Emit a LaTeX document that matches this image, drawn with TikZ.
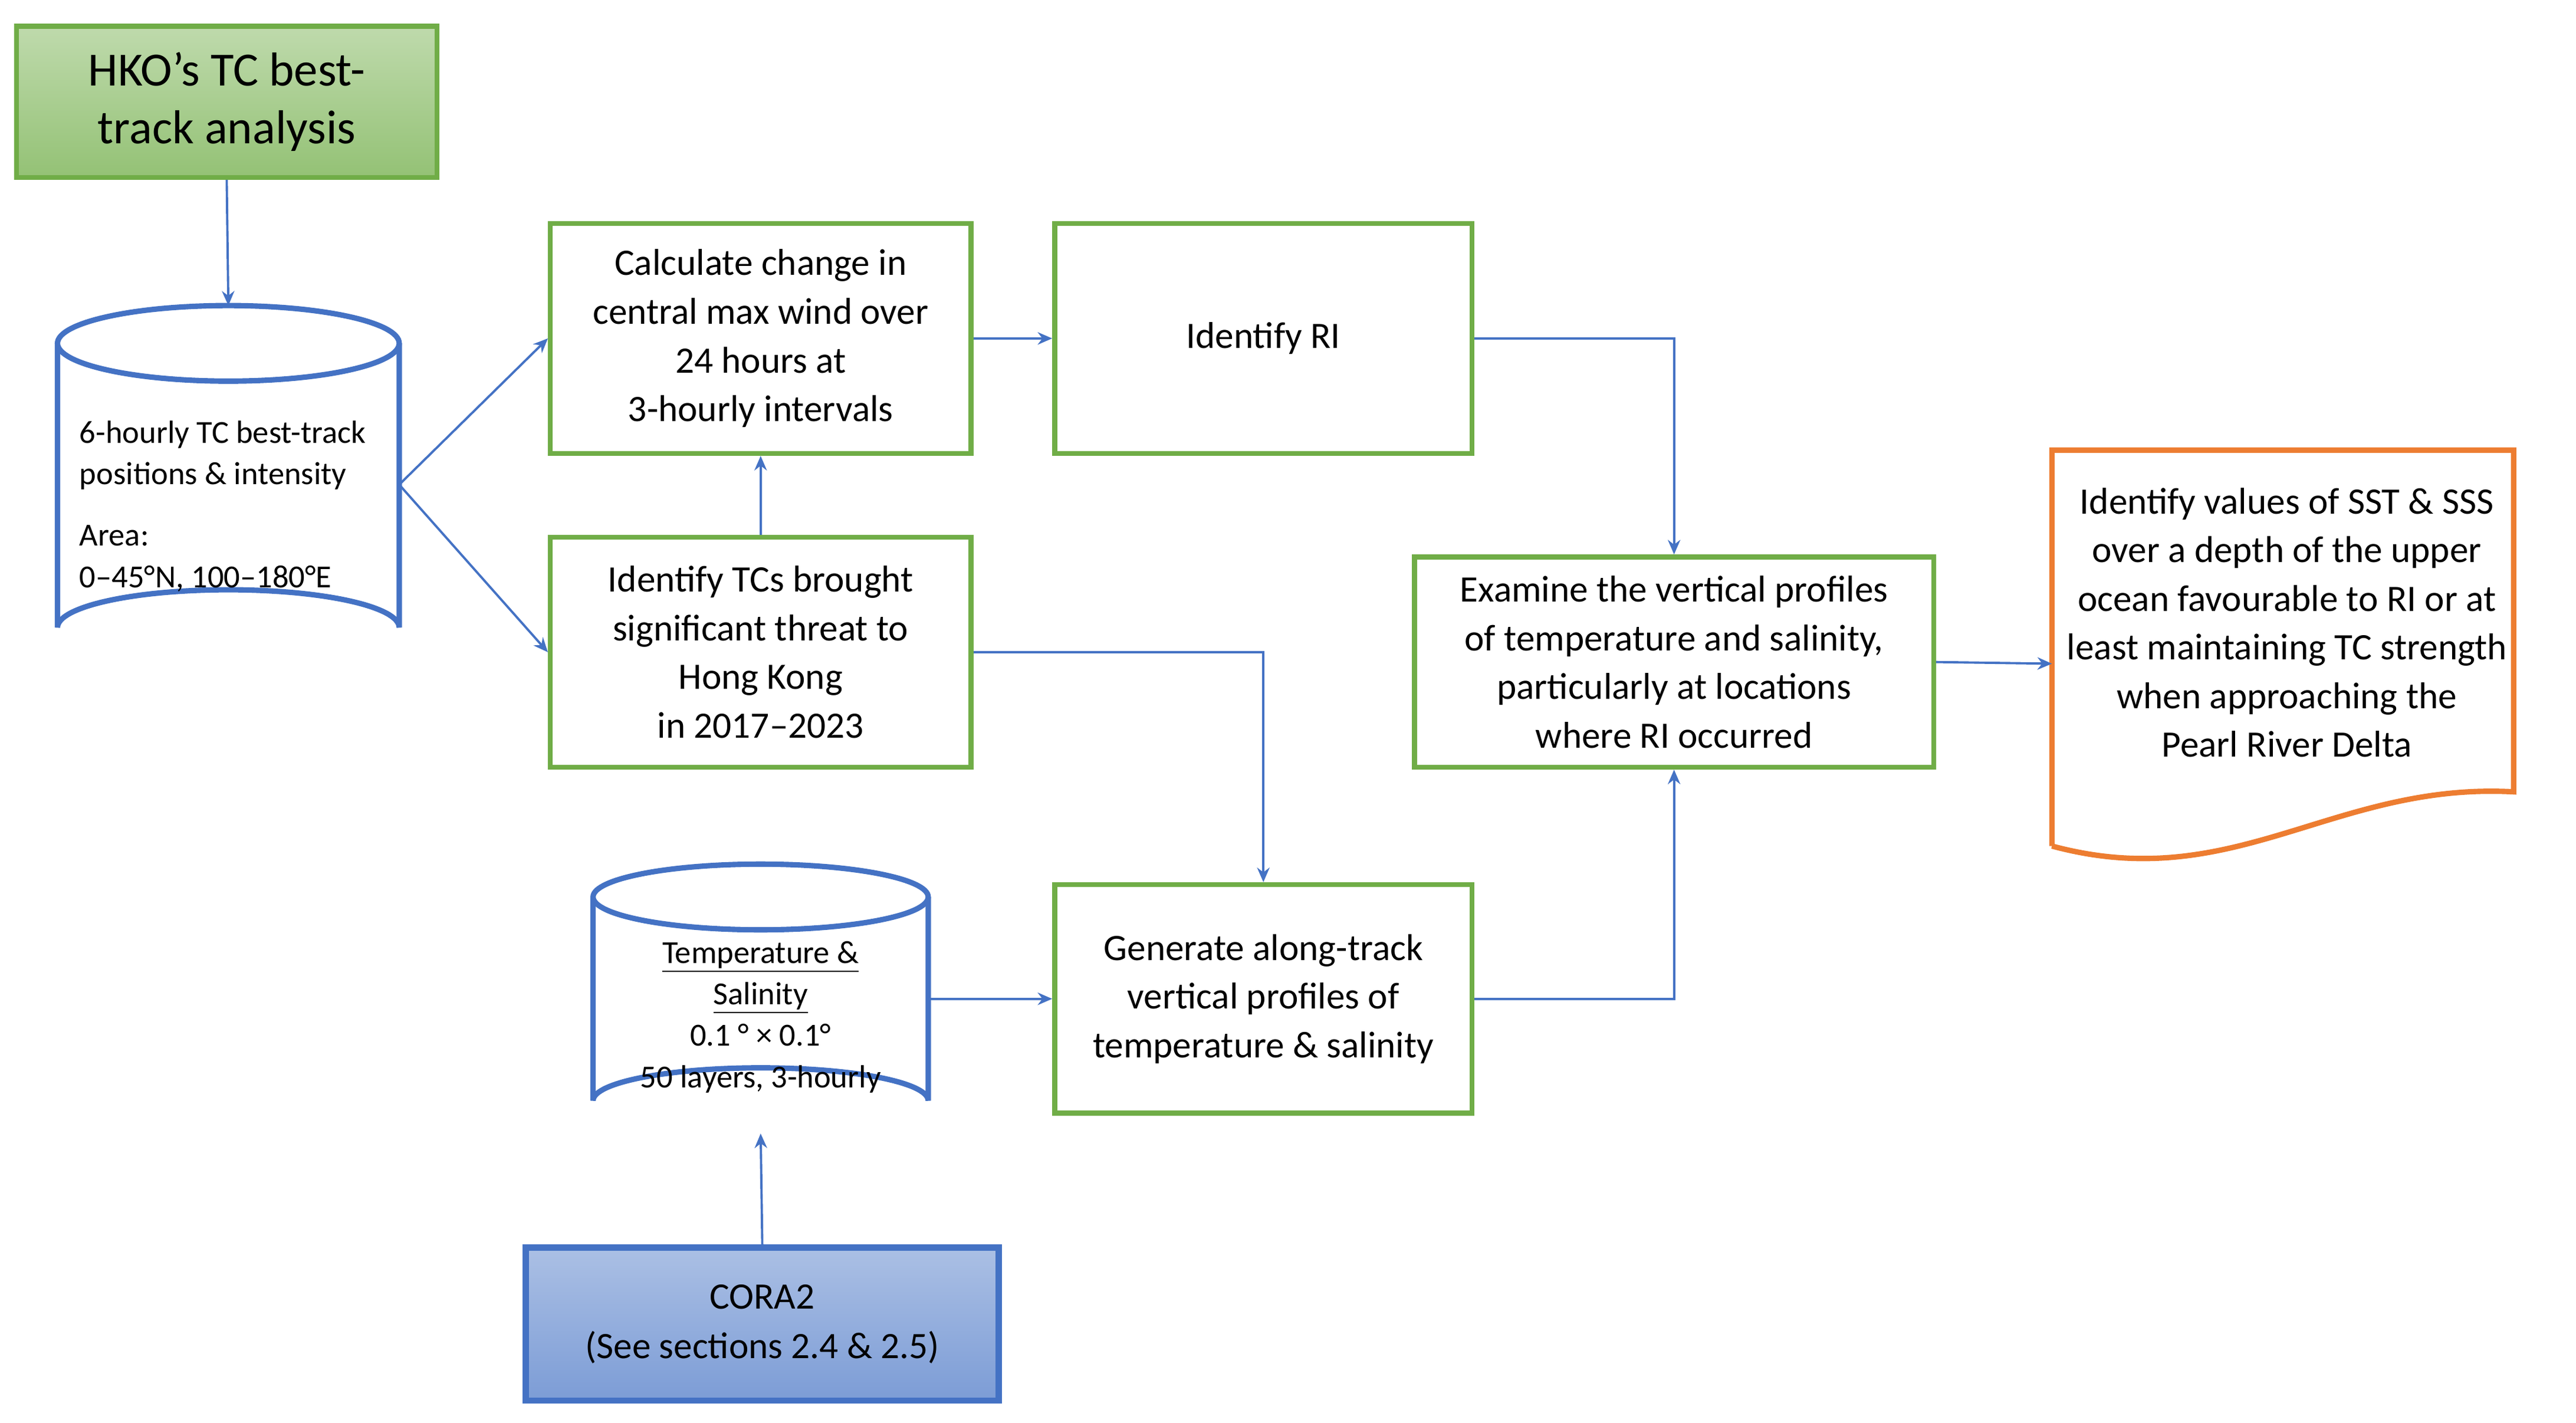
\documentclass[tikz,border=0pt]{standalone}
\usepackage{fontspec}
\setmainfont{Carlito}
\usetikzlibrary{arrows.meta}
\definecolor{gbord}{HTML}{70AD47}
\definecolor{bline}{HTML}{4472C4}
\definecolor{oline}{HTML}{ED7D31}
\begin{document}
\begin{tikzpicture}[x=0.02786cm,y=-0.02786cm,
 box/.style={draw=gbord,line width=2.4pt,align=center,font=\fontsize{18}{23.5}\selectfont},
 arr/.style={draw=bline,line width=1.1pt,-{Stealth[length=7pt,width=6pt]}},
 cyl/.style={draw=bline,line width=2.6pt,fill=white}]
\useasboundingbox (0,0) rectangle (1568,866);
% HKO
\node[box,top color=gbord!45,bottom color=gbord!75,minimum width=256*0.02786cm,minimum height=92*0.02786cm,font=\fontsize{23}{28}\selectfont] (hko) at (138,62) {HKO’s TC best-\\track analysis};
% cylinder 1
\draw[cyl] (35,209) -- (35,382) arc[start angle=180,end angle=360,x radius=104,y radius=23] -- (243,209);
\draw[cyl] (139,209) ellipse[x radius=104,y radius=23];
\coordinate (c1top) at (139,186);
\coordinate (c1r) at (243,295);
\node[anchor=west,align=left,font=\fontsize{15.5}{20}\selectfont] (c1t) at (44,277) {6-hourly TC best-track\\positions \& intensity};
\node[anchor=west,align=left,font=\fontsize{15.5}{20}\selectfont] (c1a) at (44,340) {Area:\\0–45°N, 100–180°E};
% boxes
\node[box,minimum width=256*0.02786cm,minimum height=140*0.02786cm] (calc) at (463,206) {Calculate change in\\central max wind over\\24 hours at\\3-hourly intervals};
\node[box,minimum width=254*0.02786cm,minimum height=140*0.02786cm] (ri) at (769,206) {Identify RI};
\node[box,minimum width=256*0.02786cm,minimum height=140*0.02786cm] (tcs) at (463,397) {Identify TCs brought\\significant threat to\\Hong Kong\\in 2017–2023};
\node[box,minimum width=316*0.02786cm,minimum height=128*0.02786cm] (ex) at (1019,403) {Examine the vertical profiles\\of temperature and salinity,\\particularly at locations\\where RI occurred};
\node[box,minimum width=254*0.02786cm,minimum height=139*0.02786cm] (gen) at (769,608) {Generate along-track\\vertical profiles of\\temperature \& salinity};
% document
\draw[draw=oline,line width=2.6pt] (1249,515) -- (1249,274) -- (1530,274) -- (1530,482) .. controls (1420,476) and (1360,545) .. (1249,515);
\coordinate (docl) at (1249,404);
\node[align=center,font=\fontsize{18}{23.5}\selectfont] (doc) at (1392,379) {Identify values of SST \& SSS\\over a depth of the upper\\ocean favourable to RI or at\\least maintaining TC strength\\when approaching the\\Pearl River Delta};
% cylinder 2
\draw[cyl] (361,546) -- (361,670) arc[start angle=180,end angle=360,x radius=102,y radius=20] -- (565,546);
\draw[cyl] (463,546) ellipse[x radius=102,y radius=20];
\coordinate (c2b) at (463,690);
\coordinate (c2r) at (565,608);
\node[align=center,font=\fontsize{15.5}{20}\selectfont] (c2t) at (463,619) {\underline{Temperature \&}\\\underline{Salinity}\\0.1 ° × 0.1°\\50 layers, 3-hourly};
% CORA2
\node[draw=bline,line width=3pt,top color=bline!45,bottom color=bline!70,minimum width=288*0.02786cm,minimum height=93*0.02786cm,align=center,font=\fontsize{18}{24}\selectfont] (cora) at (464,806) {CORA2\\(See sections 2.4 \& 2.5)};
% arrows
\draw[arr] (hko.south) -- (c1top);
\draw[arr] (c1r) -- (calc.west);
\draw[arr] (c1r) -- (tcs.west);
\draw[arr] (tcs.north) -- (calc.south);
\draw[arr] (calc.east) -- (ri.west);
\draw[arr] (ri.east) -| (ex.north);
\draw[arr] (tcs.east) -| (gen.north);
\draw[arr] (c2r) -- (gen.west);
\draw[arr] (gen.east) -| (ex.south);
\draw[arr] (ex.east) -- (docl);
\draw[arr] (cora.north) -- (c2b);
\end{tikzpicture}
\end{document}
